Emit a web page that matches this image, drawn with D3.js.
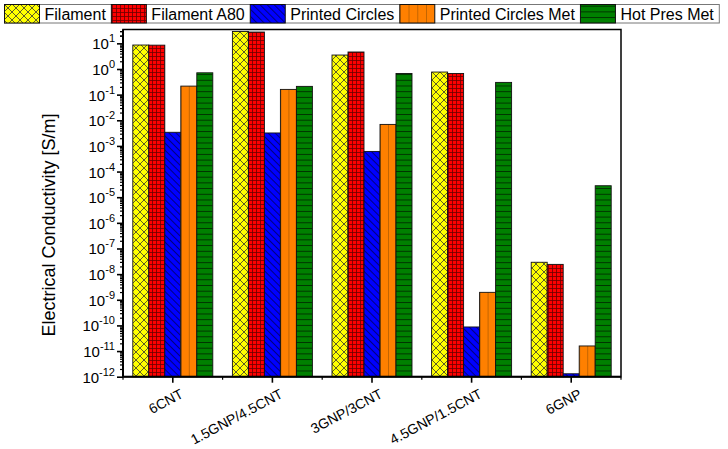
<!DOCTYPE html>
<html>
  <head>
    <meta charset="utf-8"/>
    <style>
body {
  margin: 0;
  background: #fff;
  font-family: Arial, "Liberation Sans", sans-serif;
}
    </style>
  </head>
  <body>
    <svg id="chart" width="728" height="449"></svg>
    <script src="https://cdnjs.cloudflare.com/ajax/libs/d3/7.8.5/d3.min.js"></script>
    <script>
const categories = ["6CNT", "1.5GNP/4.5CNT", "3GNP/3CNT", "4.5GNP/1.5CNT", "6GNP"];
const series = ["Filament", "Filament A80", "Printed Circles", "Printed Circles Met", "Hot Pres Met"];
const filament = [8.6, 29, 3.5, 0.76, 2.9e-8];
const filamentA80 = [8.5, 27.6, 4.6, 0.67, 2.4e-8];
const printedCircles = [3.4e-3, 3.2e-3, 6.1e-4, 8.7e-11, 1.3e-12];
const printedCirclesMet = [0.215, 0.16, 6.9e-3, 1.95e-9, 1.58e-11];
const hotPresMet = [0.71, 0.21, 0.67, 0.30, 2.8e-5];
const exponents = d3.range(-12, 2);

const values = [filament, filamentA80, printedCircles, printedCirclesMet, hotPresMet];
const patIds = ["pYellow", "pRed", "pBlue", "pOrange", "pGreen"];

const plotL = 123, plotR = 621, plotT = 29.5, plotB = 376.7;
const svg = d3.select("#chart");

// patterns
const defs = svg.append("defs");
function pattern(id, w, h, fill, units) {
  const p = defs.append("pattern")
      .attr("id", id)
      .attr("patternUnits", units || "userSpaceOnUse")
      .attr("width", w)
      .attr("height", h);
  p.append("rect").attr("width", units ? 1000 : w).attr("height", units ? 1000 : h).attr("fill", fill);
  return p;
}
let p = pattern("pYellow", 8, 8, "#ffff00");
p.append("path").attr("d", "M0,0L8,8M8,0L0,8").attr("stroke", "#333").attr("stroke-width", 0.8);
p = pattern("pRed", 4, 4, "#ff0000");
p.append("path").attr("d", "M0,0.5H4M0.5,0V4").attr("stroke", "#6a0000").attr("stroke-width", 0.8);
p = pattern("pBlue", 5, 5, "#0000ff").attr("patternTransform", "rotate(-45)");
p.append("path").attr("d", "M0.5,0V5").attr("stroke", "#000070").attr("stroke-width", 0.9);
p = pattern("pOrange", 0.5, 1, "#ff8000", "objectBoundingBox");
p.append("path").attr("d", "M0,0V1000").attr("stroke", "#8a4a00").attr("stroke-width", 1);
p = pattern("pOrangeLeg", 0.25, 1, "#ff8000", "objectBoundingBox");
p.append("path").attr("d", "M0,0V1000").attr("stroke", "#8a4a00").attr("stroke-width", 1);
p = pattern("pGreen", 6, 5.7, "#008000");
p.append("path").attr("d", "M0,0.5H6").attr("stroke", "#002a00").attr("stroke-width", 0.9);

// scales
const x = d3.scaleBand().domain(categories).range([plotL, plotR]);
const inner = d3.scaleBand().domain(series)
    .range([(x.bandwidth() - 80) / 2, (x.bandwidth() + 80) / 2]);
const y = d3.scaleLog().domain([1e-12, Math.pow(10, 1.54)]).range([plotB, plotT]);

// bars
series.forEach((s, i) => {
  svg.append("g")
    .selectAll("rect")
    .data(categories)
    .join("rect")
      .attr("x", (c) => x(c) + inner(s))
      .attr("width", inner.bandwidth())
      .attr("y", (c, j) => y(values[i][j]))
      .attr("height", (c, j) => plotB - y(values[i][j]))
      .attr("fill", `url(#${patIds[i]})`)
      .attr("stroke", "#111")
      .attr("stroke-width", 0.9);
});

// frame
svg.append("rect")
    .attr("x", plotL).attr("y", plotT)
    .attr("width", plotR - plotL).attr("height", plotB - plotT)
    .attr("fill", "none").attr("stroke", "#000").attr("stroke-width", 1.5);

// y axis
const minors = [];
exponents.concat([1]).forEach((e) => {
  for (let k = 2; k <= 9; k++) {
    const v = k * Math.pow(10, e);
    if (v < y.domain()[1]) minors.push(v);
  }
});
svg.append("g")
    .attr("transform", `translate(${plotL},0)`)
    .call(d3.axisLeft(y).tickValues(minors).tickSize(3).tickFormat(""))
    .call((g) => g.select(".domain").remove())
    .selectAll("line").attr("stroke-width", 1.2);
const yAxis = svg.append("g")
    .attr("transform", `translate(${plotL},0)`)
    .call(d3.axisLeft(y).tickValues(exponents.map((e) => Math.pow(10, e))).tickSize(6).tickFormat(""));
yAxis.select(".domain").attr("d", `M0,${plotT}V${plotB}`).attr("stroke-width", 2);
yAxis.selectAll("line").attr("stroke-width", 1.6);
const ylab = svg.append("g")
    .selectAll("text")
    .data(exponents)
    .join("text")
      .attr("x", plotL - 8)
      .attr("y", (e) => y(Math.pow(10, e)) + 6)
      .attr("text-anchor", "end")
      .attr("font-size", 15);
ylab.append("tspan").text("10");
ylab.append("tspan").attr("dy", -7).attr("font-size", 11).text((e) => e);

svg.append("text")
    .attr("transform", `translate(55,225) rotate(-90)`)
    .attr("text-anchor", "middle")
    .attr("font-size", 18)
    .text("Electrical Conductivity [S/m]");

// x axis
const xAxis = svg.append("g")
    .attr("transform", `translate(0,${plotB})`)
    .call(d3.axisBottom(x).tickSize(6).tickFormat(""));
xAxis.select(".domain").attr("d", `M${plotL},0H${plotR}`).attr("stroke-width", 2);
xAxis.selectAll("line").attr("stroke-width", 1.6);
svg.append("g")
    .selectAll("line")
    .data(d3.range(categories.length + 1))
    .join("line")
      .attr("x1", (i) => plotL + i * x.step())
      .attr("x2", (i) => plotL + i * x.step())
      .attr("y1", plotB)
      .attr("y2", plotB + 3)
      .attr("stroke", "#000")
      .attr("stroke-width", 1.2);
svg.append("g")
    .selectAll("text")
    .data(categories)
    .join("text")
      .attr("transform", (c) => `translate(${x(c) + x.bandwidth() / 2 + 11.5},397) rotate(-28)`)
      .attr("text-anchor", "end")
      .attr("font-size", 14)
      .text((c) => c);

// legend
const leg = svg.append("g");
let lx = 4.5;
const legTop = 4.5, legH = 18.5;
series.forEach((s, i) => {
  leg.append("rect")
      .attr("x", lx).attr("y", legTop)
      .attr("width", 35).attr("height", legH)
      .attr("fill", `url(#${i === 3 ? "pOrangeLeg" : patIds[i]})`)
      .attr("stroke", "#111").attr("stroke-width", 1);
  const t = leg.append("text")
      .attr("x", lx + 40)
      .attr("y", legTop + 15)
      .attr("font-size", 16)
      .text(s);
  lx += 40 + t.node().getComputedTextLength() + 5.5;
});
leg.insert("rect", ":first-child")
    .attr("x", 4.5).attr("y", legTop)
    .attr("width", lx - 4.5).attr("height", legH)
    .attr("fill", "#fff").attr("stroke", "#777").attr("stroke-width", 1);
    </script>
  </body>
</html>
